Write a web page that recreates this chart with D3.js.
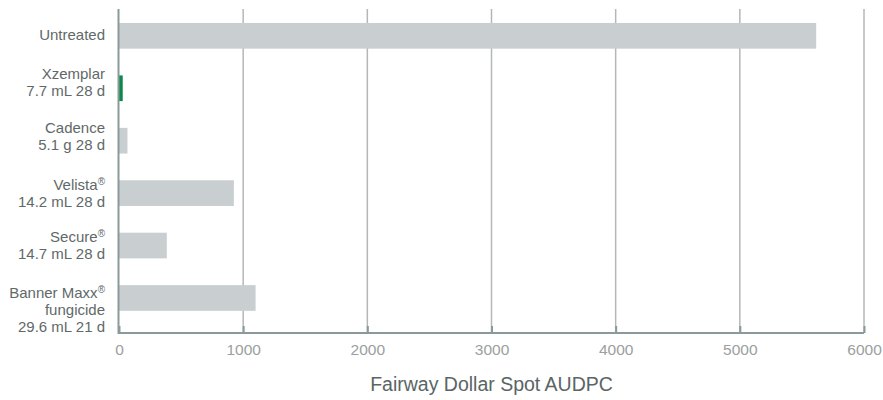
<!DOCTYPE html>
<html>
<head>
<meta charset="utf-8">
<script src="https://cdn.jsdelivr.net/npm/d3@7"></script>
<style>
  html, body { margin: 0; padding: 0; background: #fff; }
  svg { display: block; font-family: "Liberation Sans", Arial, sans-serif; }
</style>
</head>
<body>
<svg id="chart" width="883" height="400"></svg>
<script>
// ---- data ----
const categories = ["Untreated", "Xzemplar", "Cadence", "Velista", "Secure", "Banner Maxx"];
const labelLines = [
  ["Untreated"],
  ["Xzemplar", "7.7 mL 28 d"],
  ["Cadence", "5.1 g 28 d"],
  ["Velista®", "14.2 mL 28 d"],
  ["Secure®", "14.7 mL 28 d"],
  ["Banner Maxx®", "fungicide", "29.6 mL 21 d"]
];
const values = [5615, 30, 68, 925, 385, 1100];
const highlighted = ["Xzemplar"];
const xTicks = [0, 1000, 2000, 3000, 4000, 5000, 6000];
const xTitle = "Fairway Dollar Spot AUDPC";

// ---- layout / style ----
const plotLeft = 119, plotRight = 864, plotTop = 9, plotBottom = 333;
const labelNudge = [-1.5, -6, -5, 0, 0, 12];
const lineH = 17;

const svg = d3.select("#chart");

const x = d3.scaleLinear().domain([0, 6000]).range([plotLeft, plotRight]);
const y = d3.scaleBand().domain(categories).range([9.6, 324.2])
  .paddingInner(0.51).paddingOuter(0.255);

// grid lines
svg.append("g").selectAll("line")
  .data(xTicks.filter(d => d > 0))
  .join("line")
  .attr("x1", d => x(d)).attr("x2", d => x(d))
  .attr("y1", plotTop).attr("y2", plotBottom)
  .attr("stroke", "#b5b7b7").attr("stroke-width", 1.5);

// bars
svg.append("g").selectAll("rect")
  .data(categories)
  .join("rect")
  .attr("x", x(0))
  .attr("y", d => y(d))
  .attr("width", (d, i) => x(values[i]) - x(0))
  .attr("height", y.bandwidth())
  .attr("fill", d => highlighted.includes(d) ? "#0b8a4c" : "#c9ced1");

// bottom axis
const xAxis = d3.axisBottom(x).tickValues(xTicks).tickSize(-7).tickPadding(0).tickFormat(d3.format("d"));
const gx = svg.append("g").attr("transform", `translate(0,${plotBottom})`).call(xAxis);
gx.select(".domain").remove();
gx.selectAll(".tick line").attr("stroke", "#8a9a9a").attr("stroke-width", 2);
gx.selectAll(".tick text")
  .attr("y", 22).attr("dy", 0)
  .attr("fill", "#9aa0a0")
  .style("font-size", "15.5px")
  .style("font-family", "'Liberation Sans', Arial, sans-serif");

// axis lines
svg.append("line")
  .attr("x1", plotLeft - 1).attr("x2", plotRight)
  .attr("y1", plotBottom).attr("y2", plotBottom)
  .attr("stroke", "#8a9a9a").attr("stroke-width", 2);
svg.append("line")
  .attr("x1", plotLeft - 0.5).attr("x2", plotLeft - 0.5)
  .attr("y1", plotTop).attr("y2", plotBottom + 1)
  .attr("stroke", "#8a9a9a").attr("stroke-width", 2);

// category labels
const lab = svg.append("g").selectAll("text")
  .data(categories)
  .join("text")
  .attr("text-anchor", "end")
  .attr("fill", "#5f6969")
  .style("font-size", "15px");

lab.each(function(d, i) {
  const t = d3.select(this);
  const lines = labelLines[i];
  const cy = y(d) + y.bandwidth() / 2 + labelNudge[i];
  const start = cy - (lines.length - 1) * lineH / 2;
  lines.forEach((ln, k) => {
    const baseY = start + k * lineH + 5.4;
    const parts = ln.split("®");
    const ts = t.append("tspan").attr("x", 105).attr("y", baseY);
    if (parts.length > 1) {
      ts.text(parts[0]);
      t.append("tspan").attr("dy", -5).style("font-size", "10px").text("®");
      // reset baseline for following text handled by next line's absolute y
    } else {
      ts.text(ln);
    }
  });
});

// axis title
svg.append("text")
  .attr("x", (plotLeft + plotRight) / 2)
  .attr("y", 390.5)
  .attr("text-anchor", "middle")
  .attr("fill", "#5a6565")
  .style("font-size", "19.5px")
  .text(xTitle);
</script>
</body>
</html>
